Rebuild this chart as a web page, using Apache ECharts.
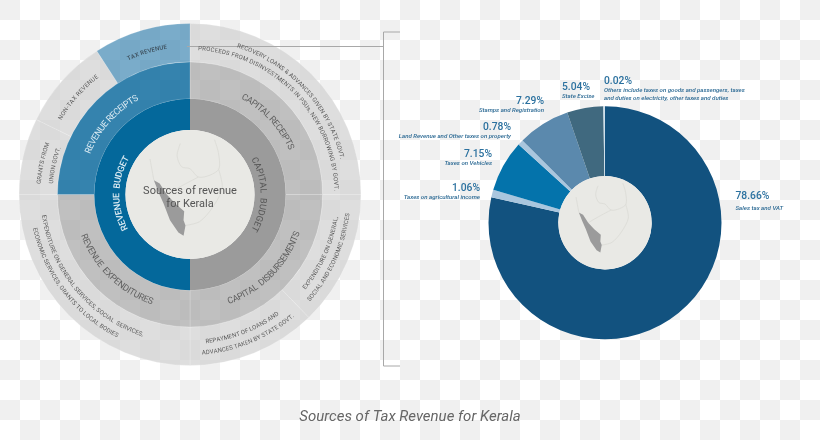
<!DOCTYPE html>
<html><head><meta charset="utf-8">
<script src="https://cdn.jsdelivr.net/npm/echarts@6/dist/echarts.min.js"></script>
<style>html,body{margin:0;padding:0;background:#fff}#c{width:820px;height:440px}</style>
</head><body><div id="c"></div>
<script>
// Tax revenue shares (%)
const taxNames = ['Sales tax and VAT','Taxes on agricultural income','Taxes on Vehicles','Land Revenue and Other taxes on property','Stamps and Registration','State Excise','Others'];
const taxShares = [78.66,1.06,7.15,0.78,7.29,5.04,0.02];
const taxLines = [['Sales tax and VAT'],['Taxes on agricultural income'],['Taxes on Vehicles'],['Land Revenue and Other taxes on property'],['Stamps and Registration'],['State Excise'],['Others include taxes on goods and passengers, taxes','and duties on electricity, other taxes and duties']];
// Budget rings (degrees of the circle, clockwise from the top)
const budgetNames = ['CAPITAL BUDGET','REVENUE BUDGET'];
const budgetValues = [180,180];
const flowNames = ['CAPITAL RECEIPTS','CAPITAL DISBURSEMENTS','REVENUE EXPENDITURES','REVENUE RECEIPTS'];
const flowValues = [90,90,90,90];
const itemNames = ['CAPITAL RECEIPTS ITEMS','EXPENDITURE ON GENERAL, SOCIAL AND ECONOMIC SERVICES','REPAYMENT OF LOANS AND ADVANCES TAKEN BY STATE GOVT.','REVENUE EXPENDITURE ITEMS','GRANTS FROM UNION GOVT.','NON-TAX REVENUE','TAX REVENUE'];
const itemValues = [90,46,44,90,26,31,33];

const LC=[190,194.5], RC=[605,222.7];
const tile=document.createElement('canvas');tile.width=tile.height=40;
const tc=tile.getContext('2d');tc.fillStyle='#fff';tc.fillRect(0,0,40,40);tc.fillStyle='#f0f0f0';tc.fillRect(0,0,20,20);tc.fillRect(20,20,20,20);

const FF='Roboto';
const mctx=document.createElement('canvas').getContext('2d');
function arcText(text,r,a0,a1,size,fill,weight){
  const font=(weight||400)+' '+size+'px '+FF;mctx.font=font;
  const ws=[...text].map(c=>mctx.measureText(c).width);
  const total=ws.reduce((a,b)=>a+b,0);
  const rad=Math.PI/180, dir=a1>a0?1:-1;
  const spanPx=Math.abs(a1-a0)*rad*r, extra=(spanPx-total)/Math.max(1,text.length-1);
  let s=0;const out=[];
  [...text].forEach((c,i)=>{
    const pos=s+ws[i]/2; s+=ws[i]+extra;
    if(c===' ')return;
    const a=(a0+dir*pos/r/rad)*rad;
    out.push({type:'text',silent:true,z:20,x:LC[0]+r*Math.sin(a),y:LC[1]-r*Math.cos(a),
      rotation:dir>0?-a:-(a-Math.PI),
      style:{text:c,font:font,fill:fill,align:'center',verticalAlign:'middle'}});
  });
  return out;
}
const W='#dcebf3',D='#5f5f5f',S='#5a5a5a';
const arcs=[
 ['REVENUE  BUDGET',73,241,301,9,W,500],
 ['CAPITAL  BUDGET',73,60,120,9,'#555',400],
 ['REVENUE RECEIPTS',110,292,331.6,9,W,400],
 ['CAPITAL RECEIPTS',111,28,66,9,D,400],
 ['REVENUE  EXPENDITURES',114,249.5,199,9,D,400],
 ['CAPITAL  DISBURSEMENTS',114,160.5,109,9,D,400],
 ['TAX REVENUE',149,335.3,351.1,6,'#3d4f5c',500],
 ['NON-TAX REVENUE',150,300,322,6,S],
 ['GRANTS FROM',151,274,290,6,S],
 ['UNION GOVT.',139,274.5,290,6,S],
 ['RECOVERY LOANS & ADVANCES GIVEN BY STATE GOVT.',156,17.6,76.8,6,S],
 ['PROCEEDS FROM DISINVESTMENTS IN PSUs, NEW BORROWING BY GOVT.',146,3.2,88.6,6,S],
 ['EXPENDITURE ON GENERAL,',148,129.6,98.7,6,S],
 ['SOCIAL AND ECONOMIC SERVICES',159,131.8,96.8,6,S],
 ['REPAYMENT OF LOANS AND',148,174,143.4,6,S],
 ['ADVANCES TAKEN BY STATE GOVT.',159,175.7,139.5,6,S],
 ['EXPENDITURE ON GENERAL SERVICES, SOCIAL  SERVICES,',148,262,198.5,6,S],
 ['ECONOMIC SERVICES, GRANTS TO LOCAL BODIES',159,257.9,207,6,S]
];
// Outline of Kerala and of the neighbouring land, in units of the hub radius
const kerala=[[-.56,-.22],[-.47,-.17],[-.36,0],[-.23,.14],[-.09,.26],[-.10,.40],[-.07,.48],[-.10,.64],[-.18,.59],[-.31,.40],[-.41,.14],[-.49,-.04]];
const land=[[-.15,-.79],[-.2,-.6],[-.13,-.43],[0,-.4],[.13,-.27],[.31,-.3],[.45,-.4],[.44,-.65],[.38,-.85]];
const land2=[[-.62,-.55],[-.56,-.22]];
const land3=[[-.36,0],[-.1,-.15],[.13,-.27]];
const land4=[[.44,-.4],[.5,-.1],[.35,.2],[.15,.42],[-.07,.48]];
function mapEls(c,R){
  const p=a=>a.map(q=>[c[0]+q[0]*R,c[1]+q[1]*R]);
  const line=a=>({type:'polyline',silent:true,z:10,shape:{points:p(a),smooth:.3},style:{stroke:'#deded9',lineWidth:1,fill:null}});
  return [line(land),line(land2),line(land3),line(land4),
    {type:'polygon',silent:true,z:11,shape:{points:p(kerala)},style:{fill:'#9b9b9b'}}];
}
const base={type:'pie',silent:true,animation:false,startAngle:90,clockwise:true,avoidLabelOverlap:false,label:{show:false},labelLine:{show:false},emphasis:{disabled:true}};
const edge={borderColor:'rgba(255,255,255,.3)',borderWidth:.6};
const zip=(n,v,c)=>n.map((x,i)=>({name:x,value:v[i],itemStyle:{color:c[i]}}));
const G1='rgba(208,208,208,.7)',G2='rgba(165,165,165,.7)';
const labelPos=[
 {x:735.5,y:188.7,align:'left'},{x:480,y:183,align:'right'},{x:492,y:149,align:'right'},
 {x:511,y:122,align:'right'},{x:544,y:96,align:'right'},{x:562,y:82,align:'left'},{x:604,y:76,align:'left'}];
const option={
 backgroundColor:{image:tile,repeat:'repeat'},
 title:{text:'Sources of Tax Revenue for Kerala',left:'center',top:405,textStyle:{fontFamily:FF,fontStyle:'italic',fontWeight:400,fontSize:15,color:'#666'}},
 series:[
  {...base,name:'items',center:LC,radius:[132.5,171],z:1,itemStyle:edge,
   data:zip(itemNames,itemValues,[G1,G1,G1,G1,G1,G1,'rgba(70,140,182,.72)'])},
  {...base,name:'flows',center:LC,radius:[95.7,132.5],z:2,itemStyle:edge,
   data:zip(flowNames,flowValues,[G2,G2,G2,'rgba(8,104,156,.82)'])},
  {...base,name:'budget',center:LC,radius:[64.5,95.7],z:3,
   data:zip(budgetNames,budgetValues,['#9b9b9b','#04689b'])},
  {...base,name:'hub',center:LC,radius:[0,64.5],z:4,data:[{name:'Sources of revenue for Kerala',value:1,itemStyle:{color:'#e9e9e5'}}]},
  {...base,name:'tax',center:RC,radius:[46.7,116.5],z:3,minAngle:.8,
   data:taxNames.map((n,i)=>({name:n,value:taxShares[i],itemStyle:{color:['#12527f','#a9c6de','#0473ab','#a9c6de','#5b89ad','#40697f','#cfe0ec'][i]}})),
   label:{show:true,position:'outside',fontFamily:FF,
     formatter:p=>'{'+(p.dataIndex===0?'q':'p')+'|'+taxShares[p.dataIndex].toFixed(2)+'%}\n'+taxLines[p.dataIndex].map(l=>'{n|'+l+'}').join('\n'),
     rich:{p:{fontFamily:FF,fontSize:10.3,fontWeight:500,color:'#2b719f',lineHeight:10,height:10},
           q:{fontFamily:FF,fontSize:10.3,fontWeight:500,color:'#2b719f',lineHeight:16,height:16},
           n:{fontFamily:FF,fontSize:6.1,fontStyle:'italic',fontWeight:500,color:'#2c6a94',lineHeight:8,height:8}}},
   labelLayout:p=>({...labelPos[p.dataIndex],verticalAlign:'top'})},
  {...base,name:'hub2',center:RC,radius:[0,46.7],z:4,data:[{name:'Kerala',value:1,itemStyle:{color:'#e9e9e5'}}]}
 ],
 graphic:{elements:[
  {type:'polyline',silent:true,z:9,shape:{points:[[187,46.5],[383,46.5]]},style:{stroke:'#a8a8a8',lineWidth:1}},
  {type:'polyline',silent:true,z:9,shape:{points:[[400,32],[383.5,32],[383.5,366],[400,366]]},style:{stroke:'#a8a8a8',lineWidth:1}},
  ...mapEls(LC,64.5),...mapEls(RC,46.7),
  {type:'text',silent:true,z:20,x:190,y:191,style:{text:'Sources of revenue',font:'400 11px '+FF,fill:'#555',align:'center',verticalAlign:'middle'}},
  {type:'text',silent:true,z:20,x:190,y:204,style:{text:'for Kerala',font:'400 11px '+FF,fill:'#555',align:'center',verticalAlign:'middle'}},
  ...arcs.flatMap(a=>arcText(...a))
 ]}
};
echarts.init(document.getElementById('c'),null,{renderer:'canvas'}).setOption(option);
</script></body></html>
